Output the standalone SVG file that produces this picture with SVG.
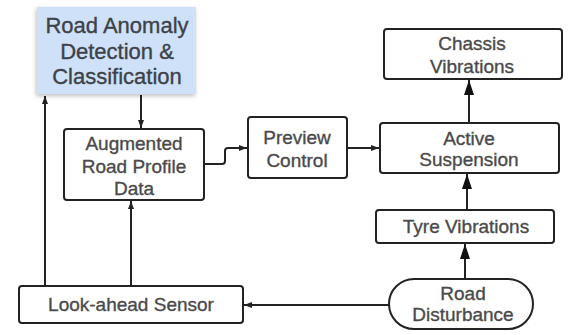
<svg xmlns="http://www.w3.org/2000/svg" width="570" height="335" viewBox="0 0 570 335">
<style>
.box{fill:#fff;stroke:#222;stroke-width:2}
.t{font-family:"Liberation Sans",Arial,sans-serif;font-size:19px;fill:#4a4a4a;stroke:#4a4a4a;stroke-width:0.35;text-anchor:middle}
.tb{font-family:"Liberation Sans",Arial,sans-serif;font-size:22px;fill:#3d4248;stroke:#3d4248;stroke-width:0.35;text-anchor:middle}
.c{fill:none;stroke:#222;stroke-width:2}
</style>
<defs>
<marker id="sm" markerUnits="userSpaceOnUse" markerWidth="8" markerHeight="6" refX="8" refY="3" orient="auto"><path d="M0,0 L8,3 L0,6 z" fill="#222"/></marker>
<marker id="big" markerUnits="userSpaceOnUse" markerWidth="15" markerHeight="10" refX="15" refY="5" orient="auto"><path d="M0,0 L15,5 L0,10 z" fill="#111"/></marker>
<filter id="sh" x="-10%" y="-10%" width="120%" height="130%"><feDropShadow dx="-1" dy="2" stdDeviation="2" flood-color="#000" flood-opacity="0.25"/></filter>
</defs>
<rect width="570" height="335" fill="#fff"/>
<g id="connectors">
<path class="c" d="M45,286 V96" marker-end="url(#sm)"/>
<path class="c" d="M141,95 V128" marker-end="url(#sm)"/>
<path class="c" d="M131,286 V201" marker-end="url(#sm)"/>
<path class="c" d="M204,164 H222 Q225,164 225,161 V151 Q225,148 228,148 H247" marker-end="url(#sm)"/>
<path class="c" d="M347,148 H379" marker-end="url(#sm)"/>
<path class="c" d="M469,123 V80" marker-end="url(#big)"/>
<path class="c" d="M467,210 V174" marker-end="url(#big)"/>
<path class="c" d="M465,279 V244" marker-end="url(#big)"/>
<path class="c" d="M389,305 H244" marker-end="url(#sm)"/>
</g>
<g id="road-anomaly">
<rect x="37" y="7" width="159" height="87" fill="#cfe1f8" filter="url(#sh)"/>
<text class="tb" x="117" y="33">Road Anomaly</text>
<text class="tb" x="117" y="59">Detection &amp;</text>
<text class="tb" x="117" y="84">Classification</text>
</g>
<g id="augmented">
<rect class="box" x="64" y="129" width="140" height="71" rx="3"/>
<text class="t" x="134" y="150">Augmented</text>
<text class="t" x="134" y="173">Road Profile</text>
<text class="t" x="134" y="195">Data</text>
</g>
<g id="preview">
<rect class="box" x="248" y="117" width="99" height="61" rx="3"/>
<text class="t" x="297" y="144">Preview</text>
<text class="t" x="297" y="167">Control</text>
</g>
<g id="chassis">
<rect class="box" x="384" y="29" width="178" height="50" rx="3"/>
<text class="t" x="472" y="50">Chassis</text>
<text class="t" x="472" y="73">Vibrations</text>
</g>
<g id="active">
<rect class="box" x="380" y="123" width="179" height="50" rx="3"/>
<text class="t" x="469" y="145">Active</text>
<text class="t" x="469" y="166">Suspension</text>
</g>
<g id="tyre">
<rect class="box" x="376" y="210" width="178" height="33" rx="3"/>
<text class="t" x="466" y="233">Tyre Vibrations</text>
</g>
<g id="road-disturbance">
<rect class="box" x="389" y="279" width="144" height="50" rx="25"/>
<text class="t" x="463" y="300">Road</text>
<text class="t" x="463" y="321">Disturbance</text>
</g>
<g id="lookahead">
<rect class="box" x="19" y="286" width="224" height="37" rx="3"/>
<text class="t" x="131" y="311">Look-ahead Sensor</text>
</g>
</svg>
